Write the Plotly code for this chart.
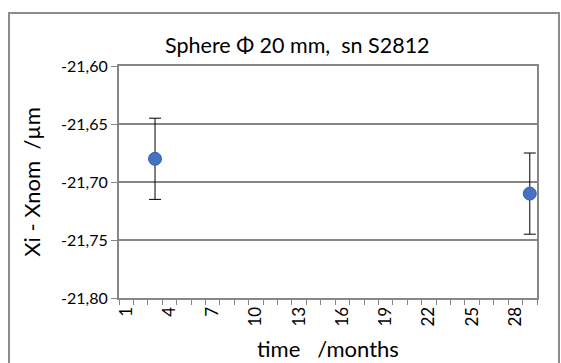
import plotly.graph_objects as go

months = [3, 29]
values = [-21.68, -21.71]
errors = [0.035, 0.035]
ytick_vals = [-21.60, -21.65, -21.70, -21.75, -21.80]
ytick_text = ["-21,60", "-21,65", "-21,70", "-21,75", "-21,80"]
xtick_vals = [1, 4, 7, 10, 13, 16, 19, 22, 25, 28]

FONT = "Lato"
fig = go.Figure()
fig.add_trace(go.Scatter(
    x=months, y=values, mode="markers",
    marker=dict(size=13, color="#4472C4", line=dict(color="#3A5FA8", width=1)),
    error_y=dict(type="data", array=errors, visible=True, color="black", thickness=1, width=6),
    showlegend=False, cliponaxis=False,
))

fig.update_layout(
    width=561, height=363,
    margin=dict(l=119, r=24, t=66, b=65),
    paper_bgcolor="white", plot_bgcolor="white",
    font=dict(family=FONT, color="black"),
    title=dict(text="Sphere Φ 20 mm,  sn S2812", x=0.53, xanchor="center", y=0.876, yanchor="middle",
               font=dict(size=21.5, family=FONT, color="black")),
    xaxis=dict(range=[0.5, 29.5], tickvals=xtick_vals, ticktext=[str(v) for v in xtick_vals],
               tickangle=-90, tickfont=dict(size=17, family=FONT), ticks="",
               showgrid=False, zeroline=False, automargin=False,
               showline=True, linecolor="#868686", linewidth=2, mirror=True,
               minor=dict(tickmode="linear", tick0=0.5, dtick=1, ticks="outside", ticklen=5,
                          tickcolor="#868686", tickwidth=1, showgrid=False)),
    yaxis=dict(range=[-21.80, -21.60], tickvals=ytick_vals, ticktext=ytick_text,
               tickfont=dict(size=16, family=FONT), ticks="outside", ticklen=6,
               tickcolor="#868686", showgrid=True, gridcolor="#868686", gridwidth=2,
               zeroline=False, showline=True, linecolor="#868686", linewidth=2, mirror=True,
               title=dict(text="Xi - Xnom\u00a0 /µm", font=dict(size=22, family=FONT), standoff=14)),
)
fig.add_annotation(text="time\u00a0\u00a0 /months", xref="paper", yref="paper",
                   x=0.5, y=-(348 - 298) / 232, xanchor="center", yanchor="middle",
                   showarrow=False, font=dict(size=22, family=FONT, color="black"))
fig.add_shape(type="rect", xref="paper", yref="paper",
              x0=-110/418, x1=1 + 22/418, y0=-0.4, y1=1 + 53/232,
              line=dict(color="#8C8C8C", width=2), fillcolor="rgba(0,0,0,0)", layer="below")
fig.write_html("out.html")
